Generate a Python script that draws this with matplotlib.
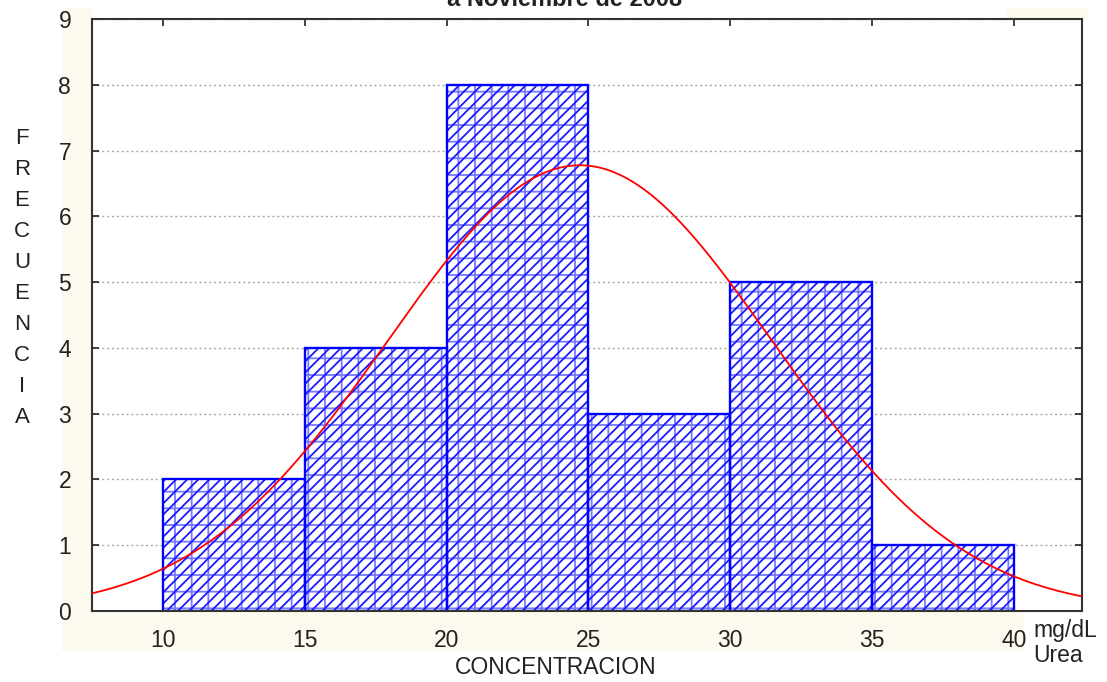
import numpy as np
import matplotlib
matplotlib.use('Agg')
import matplotlib.pyplot as plt
from matplotlib.patches import Rectangle

plt.rcParams['font.family'] = ['Liberation Sans', 'DejaVu Sans']
plt.rcParams['hatch.linewidth'] = 1.3

# histogram data
bin_edges = [10, 15, 20, 25, 30, 35, 40]
counts = [2, 4, 8, 3, 5, 1]

# fitted normal curve parameters
mean_conc = 24.7
sd_conc = 6.77

x_ticks = [10, 15, 20, 25, 30, 35, 40]
y_ticks = [0, 1, 2, 3, 4, 5, 6, 7, 8, 9]

W, H = 1107, 682
fig = plt.figure(figsize=(W / 100, H / 100), dpi=100)
fig.patch.set_facecolor('white')

# cream background strips behind tick labels
cream = '#fcf9ee'
for (x0, y0, x1, y1) in [(62, 8, 92, 651), (62, 611, 1024, 651), (1007, 8, 1088, 19)]:
    fig.patches.append(Rectangle((x0 / W, 1 - y1 / H), (x1 - x0) / W, (y1 - y0) / H,
                                 transform=fig.transFigure, facecolor=cream,
                                 edgecolor='none', zorder=-5))

ax = fig.add_axes([92 / W, 1 - 611 / H, (1082 - 92) / W, (611 - 19) / H])
ax.set_zorder(2)
ax.set_facecolor('none')
ax.add_patch(Rectangle((0, 0), 1, 1, transform=ax.transAxes, facecolor='white',
                       edgecolor='none', zorder=0))

widths = np.diff(bin_edges)
# diagonal hatch, light grid hatch, then solid outline
ax.bar(bin_edges[:-1], counts, width=widths, align='edge', facecolor='white',
       edgecolor='#1a1aff', linewidth=0, hatch='///', zorder=2)
ax.bar(bin_edges[:-1], counts, width=widths, align='edge', facecolor='none',
       edgecolor='#2020ff', linewidth=0, hatch='+', alpha=0.6, zorder=2.1)
ax.bar(bin_edges[:-1], counts, width=widths, align='edge', facecolor='none',
       edgecolor='#0000ff', linewidth=1.7, zorder=2.2)

xs = np.linspace(7.5, 42.4, 400)
n = sum(counts)
bw = bin_edges[1] - bin_edges[0]
ys = n * bw / (sd_conc * np.sqrt(2 * np.pi)) * np.exp(-0.5 * ((xs - mean_conc) / sd_conc) ** 2)
ax.plot(xs, ys, color='#ff0000', linewidth=1.3, zorder=3)

ax.set_xlim(7.5, 42.4)
ax.set_ylim(0, 9)
ax.set_xticks(x_ticks)
ax.set_yticks(y_ticks)
ax.yaxis.grid(True, linestyle=(0, (1.5, 2)), color='#a8a8a8', linewidth=1.0, zorder=1)
ax.set_axisbelow(True)

ax.tick_params(direction='in', length=5, width=1.2, top=True, right=True,
               labelsize=16.5, colors='#222222')
ax.tick_params(axis='x', pad=13)
ax.tick_params(axis='y', pad=15)
for s in ax.spines.values():
    s.set_linewidth(1.5)
    s.set_color('#333333')

fig.text(22 / W, 1 - 278 / H, '\n'.join('FRECUENCIA'), ha='center', va='center',
         fontsize=16, linespacing=1.62, color='#222222')
fig.text(556 / W, 1 - 668 / H, 'CONCENTRACION', ha='center', va='center',
         fontsize=16.5, color='#222222')
fig.text(1033 / W, 1 - 643 / H, 'mg/dL\nUrea', ha='left', va='center',
         fontsize=16.5, linespacing=1.15, color='#222222')
fig.text(565 / W, 1 - 6 / H, 'a Noviembre de 2008', ha='center', va='baseline',
         fontsize=17, fontweight='bold', color='#222222')

fig.savefig('out.png', dpi=100)
